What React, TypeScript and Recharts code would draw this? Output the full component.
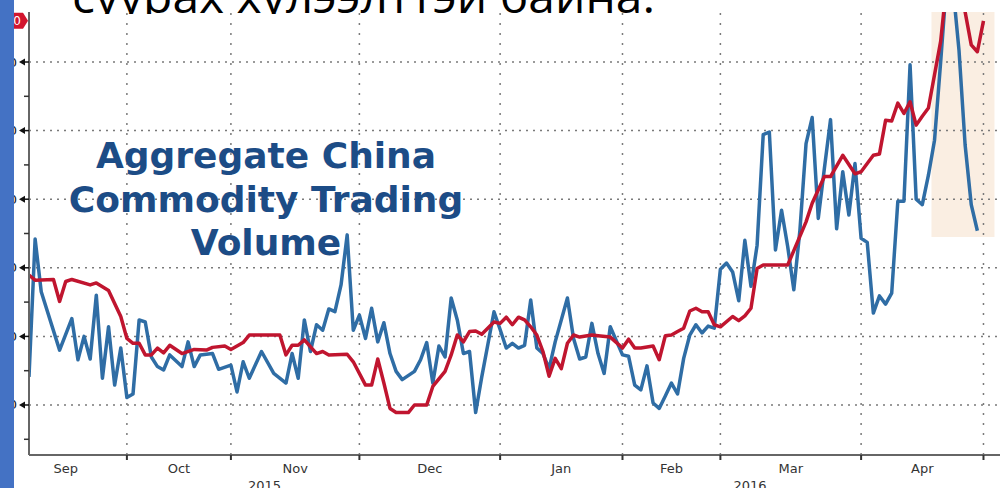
import React from 'react';
import { LineChart, Line, XAxis, YAxis, ReferenceLine, ReferenceArea, ReferenceDot } from 'recharts';

// ---- data (x = trading-day index, y = volume in chart units) ----
const blueDays = [0, 1, 2, 5, 7, 8, 9, 10, 11, 12, 13, 14, 15, 16, 17, 18, 19, 20, 21, 22, 23, 25, 26, 27, 28, 30, 31, 33, 34, 35, 36, 38, 40, 42, 43, 44, 45, 46, 47, 48, 49, 50, 51, 52, 53, 54, 55, 56, 57, 58, 59, 60, 61, 63, 64, 65, 66, 67, 68, 69, 70, 71, 72, 73, 74, 76, 77, 78, 79, 80, 81, 82, 83, 84, 85, 86, 88, 89, 90, 91, 92, 93, 94, 95, 97, 98, 99, 100, 101, 102, 103, 104, 105, 106, 107, 108, 109, 110, 111, 112, 113, 114, 115, 116, 117, 118, 119, 120, 121, 122, 123, 124, 125, 126, 127, 128, 129, 130, 131, 132, 133, 134, 135, 136, 137, 138, 139, 140, 141, 142, 143, 144, 145, 146, 147, 148, 149, 150, 151, 152, 153, 154, 155];
const blueValues = [14.1, 34.2, 26.5, 18.0, 22.6, 16.6, 20.0, 16.7, 26.0, 13.9, 21.4, 12.9, 18.3, 11.1, 11.6, 22.4, 22.1, 17.0, 15.6, 15.1, 17.3, 15.6, 19.2, 15.6, 17.3, 17.5, 15.2, 15.8, 11.9, 16.3, 13.9, 17.8, 14.6, 13.2, 17.5, 13.9, 22.4, 17.8, 21.7, 20.9, 24.0, 23.6, 27.5, 34.8, 20.9, 23.1, 19.7, 24.1, 19.2, 22.0, 17.5, 14.9, 13.7, 14.9, 16.6, 19.1, 13.2, 18.6, 17.0, 25.6, 22.4, 17.5, 17.8, 8.9, 14.1, 23.6, 21.0, 18.3, 19.0, 18.3, 18.7, 25.3, 18.3, 17.5, 15.3, 19.2, 25.6, 19.7, 16.7, 17.0, 21.9, 17.5, 14.6, 21.4, 17.3, 17.1, 12.9, 12.2, 15.7, 10.3, 9.5, 11.3, 13.2, 11.6, 16.8, 20.2, 21.7, 20.5, 21.5, 21.2, 29.8, 30.7, 29.4, 25.2, 34.0, 27.3, 33.3, 49.4, 49.8, 32.6, 38.4, 33.1, 26.8, 35.5, 48.1, 51.9, 37.2, 44.5, 51.6, 35.7, 44.0, 37.7, 45.2, 34.3, 33.7, 23.4, 25.9, 24.7, 26.3, 39.7, 39.7, 59.6, 40.0, 39.2, 43.5, 48.6, 60.0, 72.0, 71.0, 61.7, 47.9, 39.2, 35.4];

const redDays = [0, 1, 4, 5, 6, 7, 10, 11, 13, 15, 16, 17, 18, 19, 20, 21, 22, 23, 25, 27, 29, 30, 32, 33, 35, 36, 41, 42, 43, 44, 45, 47, 48, 49, 52, 53, 55, 56, 57, 58, 59, 60, 62, 63, 65, 66, 68, 69, 70, 71, 72, 73, 74, 76, 77, 78, 79, 80, 81, 82, 83, 84, 85, 86, 87, 88, 89, 90, 92, 93, 95, 97, 98, 99, 100, 102, 103, 104, 105, 106, 107, 108, 109, 110, 111, 112, 113, 115, 116, 117, 118, 119, 120, 124, 127, 128, 130, 131, 133, 135, 136, 138, 139, 140, 141, 142, 143, 144, 145, 146, 147, 149, 150, 151, 152, 153, 154, 155, 156];
const redValues = [28.95, 28.2, 28.3, 25.1, 28.0, 28.3, 27.5, 27.8, 26.7, 22.9, 19.7, 19.0, 19.0, 17.3, 17.3, 18.3, 17.6, 18.7, 17.5, 18.1, 18.0, 18.4, 18.6, 18.1, 19.1, 20.2, 20.2, 17.3, 18.7, 18.7, 19.5, 17.5, 17.8, 17.3, 17.4, 16.3, 12.9, 12.9, 16.7, 13.2, 9.5, 8.9, 8.9, 10.0, 10.0, 12.7, 14.9, 17.3, 20.2, 19.2, 20.7, 20.8, 20.3, 22.1, 21.9, 22.8, 21.7, 22.8, 22.4, 21.4, 20.2, 17.8, 14.2, 16.8, 15.3, 19.0, 20.2, 19.9, 20.2, 20.1, 19.9, 18.3, 19.6, 18.3, 18.3, 18.6, 16.6, 20.1, 20.2, 20.7, 21.2, 23.7, 24.1, 23.6, 23.6, 21.7, 21.4, 22.9, 22.3, 23.0, 24.1, 29.9, 30.4, 30.4, 36.7, 39.4, 43.3, 43.3, 46.4, 43.7, 44.0, 46.4, 46.6, 51.5, 51.4, 54.0, 52.5, 54.2, 50.8, 52.1, 53.3, 63.0, 71.6, 74.5, 72.5, 67.3, 62.5, 61.5, 66.0];

const monthNames = ['Sep', 'Oct', 'Nov', 'Dec', 'Jan', 'Feb', 'Mar', 'Apr'];
const monthStartDays = [-4, 16, 33, 54, 77, 97, 113, 136, 156];
const yearLabels = ['2015', '2016'];
const yearSpans = [[0, 77], [77, 158.7]];
const yMajorTicks = [10, 20, 30, 40, 50, 60];
const yMinorTicks = [5, 15, 25, 35, 45, 55];
const highlightStartDay = 147.5;
const highlightEndDay = 157.8;
const highlightBottomValue = 34.5;

const xDomain: [number, number] = [0, 158.7];
const yDomain: [number, number] = [2.71, 67.29];

const titleLines = ['Aggregate China', 'Commodity Trading', 'Volume'];
const headingText = 'суурах хүлээлттэй байна.';

// ---- derived tables ----
const blueData = blueDays.map((d, i) => ({ day: d, value: blueValues[i] }));
const redData = redDays.map((d, i) => ({ day: d, value: redValues[i] }));
const boundaries = monthStartDays.slice(1);
const monthMids = monthNames.map((_, i) => (monthStartDays[i] + monthStartDays[i + 1]) / 2);
const yearMids = yearSpans.map(([a, b]) => (a + b) / 2);
const xTicks = [...boundaries, ...monthMids, ...yearMids].sort((a, b) => a - b);
const yTicks = [...yMajorTicks, ...yMinorTicks].sort((a, b) => a - b);
const lastRed = redValues[redValues.length - 1];

const AXIS_FONT = '"DejaVu Sans", Verdana, sans-serif';

const XTick = (props: any) => {
  const { x, y, payload } = props;
  const v = payload.value;
  const bi = boundaries.indexOf(v);
  if (bi >= 0) {
    return <line x1={x} x2={x} y1={y} y2={y + 5} stroke="#333" strokeWidth={2} />;
  }
  const mi = monthMids.indexOf(v);
  if (mi >= 0) {
    return (
      <text x={x} y={y + 18} textAnchor="middle" fontSize={13} fontFamily={AXIS_FONT} fill="#333">
        {monthNames[mi]}
      </text>
    );
  }
  const yi = yearMids.indexOf(v);
  if (yi >= 0) {
    return (
      <text x={x} y={y + 35} textAnchor="middle" fontSize={13} fontFamily={AXIS_FONT} fill="#333">
        {yearLabels[yi]}
      </text>
    );
  }
  return null;
};

const YTick = (props: any) => {
  const { x, y, payload } = props;
  const v = payload.value;
  if (yMajorTicks.includes(v)) {
    return (
      <g>
        <text x={x - 12} y={y + 4.5} textAnchor="end" fontSize={13} fontFamily={AXIS_FONT} fill="#222">
          {v}
        </text>
        <polygon points={`${x - 10},${y} ${x - 4},${y - 3.5} ${x - 4},${y + 3.5}`} fill="#111" />
        <line x1={x - 5} x2={x} y1={y} y2={y} stroke="#111" strokeWidth={1.5} />
      </g>
    );
  }
  return <line x1={x - 5} x2={x} y1={y} y2={y} stroke="#333" strokeWidth={1.5} />;
};

const Badge = (props: any) => {
  const { cx, cy } = props;
  if (cx == null || cy == null) return null;
  return (
    <g>
      <polygon
        points={`${cx - 1},${cy} ${cx - 6},${cy - 8} ${cx - 40},${cy - 8} ${cx - 40},${cy + 8} ${cx - 6},${cy + 8}`}
        fill="#D2152E"
      />
      <text x={cx - 8} y={cy + 4.5} textAnchor="end" fontSize={12} fontFamily={AXIS_FONT} fill="#fff">
        {lastRed.toFixed(1)}
      </text>
    </g>
  );
};

export default function App() {
  return (
    <div style={{ position: 'absolute', left: 0, top: 0, width: 1002, height: 488, background: '#fff', overflow: 'hidden' }}>
      <svg width={1002} height={14} style={{ position: 'absolute', left: 0, top: 0 }}>
        <text x={72} y={13} fontSize={46} fontFamily='"Open Sans", "Noto Sans", sans-serif' fill="#000" textLength={583} lengthAdjust="spacingAndGlyphs">
          {headingText}
        </text>
      </svg>
      <div style={{ position: 'absolute', left: 0, top: 0 }}>
        <LineChart width={1002} height={488} margin={{ top: 12, right: 2, bottom: 0, left: 0 }}>
          <XAxis
            dataKey="day"
            type="number"
            domain={xDomain}
            allowDataOverflow
            ticks={xTicks}
            interval={0}
            tick={<XTick />}
            tickLine={false}
            tickSize={0}
            tickMargin={0}
            height={33}
            axisLine={{ stroke: '#666', strokeWidth: 2 }}
          />
          <YAxis
            type="number"
            domain={yDomain}
            allowDataOverflow
            ticks={yTicks}
            interval={0}
            tick={<YTick />}
            tickLine={false}
            tickSize={0}
            tickMargin={0}
            width={29}
            axisLine={{ stroke: '#666', strokeWidth: 2 }}
          />
          <ReferenceArea
            x1={highlightStartDay}
            x2={highlightEndDay}
            y1={highlightBottomValue}
            y2={yDomain[1]}
            fill="#FAEEE2"
            fillOpacity={1}
            stroke="none"
          />
          {yMajorTicks.map((v) => (
            <ReferenceLine key={'h' + v} y={v} stroke="#7a7a7a" strokeWidth={1.5} strokeDasharray="2 5" />
          ))}
          {boundaries.map((d) => (
            <ReferenceLine key={'v' + d} x={d} stroke="#7a7a7a" strokeWidth={1.5} strokeDasharray="2 8" />
          ))}
          <Line data={blueData} dataKey="value" type="linear" stroke="#2F6DA5" strokeWidth={3.5} dot={false} isAnimationActive={false} strokeLinejoin="round" />
          <Line data={redData} dataKey="value" type="linear" stroke="#C0152F" strokeWidth={3.5} dot={false} isAnimationActive={false} strokeLinejoin="round" />
          <ReferenceDot x={0} y={lastRed} shape={<Badge />} ifOverflow="visible" />
        </LineChart>
      </div>
      <svg width={1002} height={488} style={{ position: 'absolute', left: 0, top: 0, pointerEvents: 'none' }}>
        {titleLines.map((t, i) => (
          <text key={t} x={266} y={168 + i * 43.5} textAnchor="middle" fontSize={36} fontWeight="bold" fontFamily={AXIS_FONT} fill="#1C4C86">
            {t}
          </text>
        ))}
      </svg>
      <div style={{ position: 'absolute', left: 0, top: 0, width: 14, height: 488, background: '#4472C4' }} />
    </div>
  );
}
